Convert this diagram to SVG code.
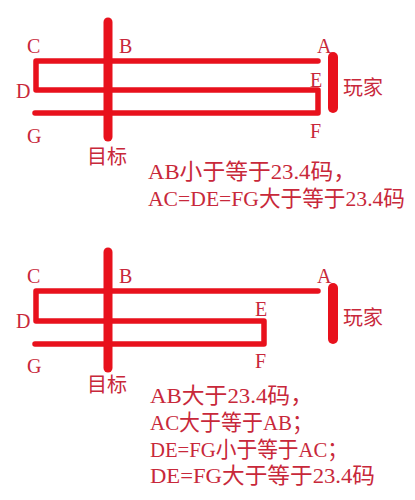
<svg xmlns="http://www.w3.org/2000/svg" width="415" height="500" viewBox="0 0 415 500">
<style>
.bg{fill:#ffffff}
.wire{fill:none;stroke:#e8111c;stroke-width:5.5;stroke-linecap:round;stroke-linejoin:round}
.bar{stroke:#e8111c;stroke-width:9;stroke-linecap:round}
.pbar{stroke:#e8111c;stroke-width:10;stroke-linecap:round}
.lbl{font-family:"Liberation Serif","Noto Sans CJK SC",serif;font-size:20px;fill:#c8283a}
.cjk{font-family:"Noto Sans CJK SC",sans-serif;font-size:20px;fill:#c8283a}
.txt{font-family:"Liberation Serif","Noto Sans CJK SC",serif;font-size:22px;fill:#c8283a}
</style>
<rect class="bg" x="0" y="0" width="415" height="500"/>
<g id="connectors">
<path class="wire" d="M318,61 H36 V90 H318 V113 H35"/>
<path class="wire" d="M318,291 H36 V321 H264 V344 H35"/>
</g>
<g id="target-top"><line class="bar" x1="108" y1="22" x2="108" y2="137"/><text class="cjk" x="87" y="164">目标</text></g>
<g id="player-top"><line class="pbar" x1="333" y1="57" x2="333" y2="108"/><text class="cjk" x="343" y="95">玩家</text></g>
<g id="labels-top">
<text class="lbl" x="27" y="53">C</text>
<text class="lbl" x="119" y="53">B</text>
<text class="lbl" x="317" y="53">A</text>
<text class="lbl" x="16" y="98">D</text>
<text class="lbl" x="310" y="87">E</text>
<text class="lbl" x="27" y="143">G</text>
<text class="lbl" x="310" y="138">F</text>
</g>
<g id="note-top">
<text class="txt" x="148" y="179" textLength="208" lengthAdjust="spacingAndGlyphs">AB小于等于23.4码，</text>
<text class="txt" x="148" y="206" textLength="257" lengthAdjust="spacingAndGlyphs">AC=DE=FG大于等于23.4码</text>
</g>
<g id="target-bottom"><line class="bar" x1="108" y1="252" x2="108" y2="368"/><text class="cjk" x="87" y="392">目标</text></g>
<g id="player-bottom"><line class="pbar" x1="333" y1="288" x2="333" y2="339"/><text class="cjk" x="343" y="325">玩家</text></g>
<g id="labels-bottom">
<text class="lbl" x="27" y="283">C</text>
<text class="lbl" x="119" y="283">B</text>
<text class="lbl" x="317" y="283">A</text>
<text class="lbl" x="16" y="328">D</text>
<text class="lbl" x="255" y="316">E</text>
<text class="lbl" x="27" y="373">G</text>
<text class="lbl" x="255" y="368">F</text>
</g>
<g id="note-bottom">
<text class="txt" x="150" y="403" textLength="163" lengthAdjust="spacingAndGlyphs">AB大于23.4码，</text>
<text class="txt" x="150" y="430" textLength="163" lengthAdjust="spacingAndGlyphs">AC大于等于AB；</text>
<text class="txt" x="150" y="457" textLength="198" lengthAdjust="spacingAndGlyphs">DE=FG小于等于AC；</text>
<text class="txt" x="150" y="483" textLength="225" lengthAdjust="spacingAndGlyphs">DE=FG大于等于23.4码</text>
</g>
</svg>
